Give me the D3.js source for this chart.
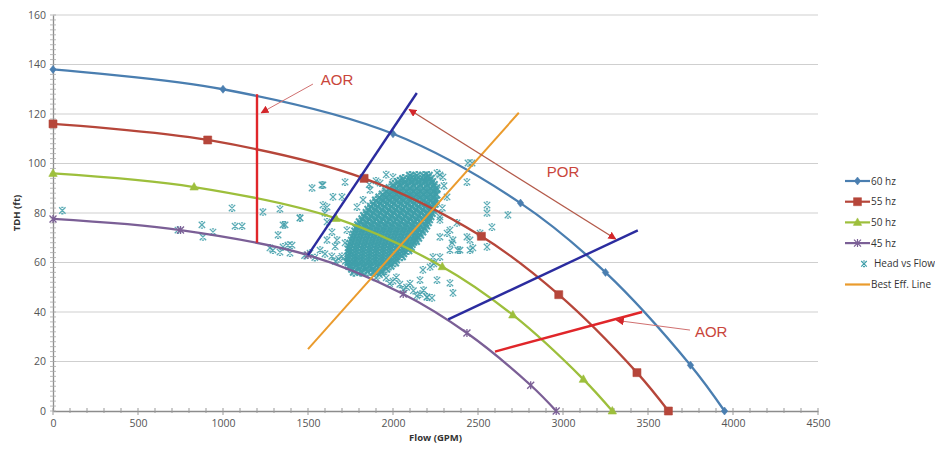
<!DOCTYPE html>
<html>
<head>
<meta charset="utf-8">
<script src="https://d3js.org/d3.v7.min.js"></script>
<style>
body { margin: 0; background: #fff; }
text { font-family: "Liberation Sans Narrow", "Open Sans", Arial, sans-serif; }
</style>
</head>
<body>
<script>
// pump curves (flow GPM, head ft)
var flow60 = [0, 1000, 2000, 2750, 3250, 3750, 3950],
    head60 = [138, 130, 112, 84, 56, 18.5, 0];
var flow55 = [0, 910, 1830, 2520, 2975, 3435, 3620],
    head55 = [116, 109.5, 94, 70.6, 47, 15.5, 0];
var flow50 = [0, 830, 1665, 2290, 2705, 3120, 3290],
    head50 = [96, 90.5, 77.8, 58.3, 38.8, 12.8, 0];
var flow45 = [0, 750, 1500, 2060, 2435, 2810, 2960],
    head45 = [77.6, 73.1, 63, 47.3, 31.5, 10.4, 0];

// Head vs Flow scatter: loose points and the strip along the 45 hz curve
var scatterFlow = [
  55, 735, 876, 882, 941, 1053, 1071, 1112, 1235, 1335, 1365, 1324, 1453, 1382, 1294, 1276, 1335, 1394, 1512,
  1524, 1588, 1612, 1600, 1647, 1582, 1718, 1700, 1588, 1353, 1453, 1406, 1353, 1612, 1641, 1612, 1571, 1671,
  1729, 1718, 1788, 1824, 1865, 1924, 2000, 2041, 2118, 2200, 2259, 2294, 2259, 2276, 2318, 2353, 2435, 2453,
  2394, 2335, 2276, 2218, 2176, 2159, 2259, 2335, 2353, 2229, 2200, 2465, 2435, 2441, 2276, 2235, 2318, 2553,
  2553, 2676, 2582, 2512, 2453, 2470, 2553, 2382, 2347, 2276, 2235, 2335, 2376, 2276, 1480, 1540, 1660, 1750,
  1600, 1640, 1680, 1720, 1760, 1800, 1840, 1880, 1920, 1960, 2000, 2040, 2080, 2120, 2160, 2200,
  1700, 1780, 1860, 1940, 2020, 2100, 2180, 1660, 1740, 1820, 1900, 1980, 2060, 2140,
  1860, 1900, 1960, 2290, 2300, 2240
];
var scatterHead = [
  81, 73.1, 75.2, 70.3, 72.3, 82, 74.7, 74.7, 80.4, 81.6, 75.2, 71.1, 78, 67, 65, 65.9, 64.2, 63.8, 63.8,
  90.1, 91.3, 82.4, 80, 86.5, 91.3, 92.5, 86.5, 83.2, 75.2, 78, 67, 66.3, 76.4, 72.3, 69.1, 65, 69.1,
  73.1, 67.9, 82.4, 85.3, 89.3, 92.1, 94.5, 93.3, 94.5, 94.5, 96.2, 94.5, 89.3, 77.2, 71.9, 69.1, 70.3, 65,
  65, 65, 62.2, 58.2, 57, 52.9, 52.9, 51.7, 47.7, 45.7, 46.1, 100.2, 92.5, 100.2, 95.4, 90.5, 86.5, 83.2,
  80, 79.2, 74.3, 71.9, 69.1, 65.9, 66.3, 65, 67.9, 70.3, 62.2, 73.1, 76, 78.4, 62.8, 62, 66.5, 64,
  63.5, 62.5, 61.5, 60.5, 59.5, 58.5, 57.3, 56, 55, 53.8, 52.5, 51.2, 50, 48.6, 47.2, 46,
  62.5, 61, 58.5, 56.5, 54, 51.5, 48.8, 60.5, 58.3, 56, 53.8, 51.5, 49, 46.5,
  91.5, 93, 95.5, 82, 91, 59.5
];

// Head vs Flow scatter: dense cluster, one row of flows per head value
var clusterHead = [95, 93.75, 92.5, 91.25, 90, 88.75, 87.5, 86.25, 85, 83.75, 82.5, 81.25, 80, 78.75,
  77.5, 76.25, 75, 73.75, 72.5, 71.25, 70, 68.75, 67.5, 66.25, 65, 63.75, 62.5, 61.25, 60, 58.75, 57.5, 56.25];
var clusterFlow = [
  [2100, 2140, 2180, 2210],
  [2060, 2100, 2140, 2180, 2220],
  [2030, 2070, 2110, 2150, 2190, 2230],
  [2000, 2040, 2080, 2120, 2160, 2200, 2240],
  [1980, 2020, 2060, 2100, 2140, 2180, 2220, 2255],
  [1960, 2000, 2040, 2080, 2120, 2160, 2200, 2240],
  [1940, 1980, 2020, 2060, 2100, 2140, 2180, 2220, 2255],
  [1920, 1960, 2000, 2040, 2080, 2120, 2160, 2200, 2240],
  [1900, 1940, 1980, 2020, 2060, 2100, 2140, 2180, 2220, 2250],
  [1885, 1925, 1965, 2005, 2045, 2085, 2125, 2165, 2205, 2245],
  [1870, 1910, 1950, 1990, 2030, 2070, 2110, 2150, 2190, 2230],
  [1855, 1895, 1935, 1975, 2015, 2055, 2095, 2135, 2175, 2215, 2235],
  [1845, 1885, 1925, 1965, 2005, 2045, 2085, 2125, 2165, 2205, 2228],
  [1830, 1870, 1910, 1950, 1990, 2030, 2070, 2110, 2150, 2190, 2220],
  [1820, 1860, 1900, 1940, 1980, 2020, 2060, 2100, 2140, 2180, 2212],
  [1805, 1845, 1885, 1925, 1965, 2005, 2045, 2085, 2125, 2165, 2205],
  [1795, 1835, 1875, 1915, 1955, 1995, 2035, 2075, 2115, 2155, 2195],
  [1785, 1825, 1865, 1905, 1945, 1985, 2025, 2065, 2105, 2145, 2185],
  [1778, 1818, 1858, 1898, 1938, 1978, 2018, 2058, 2098, 2138, 2172],
  [1770, 1810, 1850, 1890, 1930, 1970, 2010, 2050, 2090, 2130, 2160],
  [1765, 1805, 1845, 1885, 1925, 1965, 2005, 2045, 2085, 2125, 2148],
  [1758, 1798, 1838, 1878, 1918, 1958, 1998, 2038, 2078, 2118, 2135],
  [1750, 1790, 1830, 1870, 1910, 1950, 1990, 2030, 2070, 2110],
  [1745, 1785, 1825, 1865, 1905, 1945, 1985, 2025, 2065, 2105],
  [1742, 1782, 1822, 1862, 1902, 1942, 1982, 2022, 2062, 2090],
  [1740, 1780, 1820, 1860, 1900, 1940, 1980, 2020, 2060],
  [1738, 1778, 1818, 1858, 1898, 1938, 1978, 2018, 2052],
  [1738, 1778, 1818, 1858, 1898, 1938, 1978, 2018],
  [1740, 1780, 1820, 1860, 1900, 1940, 1980, 2012],
  [1745, 1785, 1825, 1865, 1905, 1945, 1985],
  [1760, 1800, 1840, 1880, 1920, 1960],
  [1770, 1810, 1850, 1890, 1930]
];

// best efficiency line and operating region boundaries
var bestEffFlow = [1500, 2740], bestEffHead = [25, 120.5];
var porUpperFlow = [1500, 2140], porUpperHead = [63, 128.5];
var porLowerFlow = [2325, 3440], porLowerHead = [37, 73];
var aorLeftFlow = [1200, 1200], aorLeftHead = [128, 68];
var aorRightFlow = [2600, 3465], aorRightHead = [24, 40];

var xTicks = [0, 500, 1000, 1500, 2000, 2500, 3000, 3500, 4000, 4500];
var yTicks = [0, 20, 40, 60, 80, 100, 120, 140, 160];

var legendLabels = ["60 hz", "55 hz", "50 hz", "45 hz", "Head vs Flow", "Best Eff. Line"];

var margin = {top: 15, right: 117, bottom: 39, left: 53},
    width = 935 - margin.left - margin.right,
    height = 450 - margin.top - margin.bottom;

var x = d3.scaleLinear().domain([0, 4500]).range([0, width]);
var y = d3.scaleLinear().domain([0, 160]).range([height, 0]);

var svg = d3.select("body").append("svg")
    .attr("width", 935)
    .attr("height", 450);

var defs = svg.append("defs");
defs.append("marker")
    .attr("id", "arr")
    .attr("viewBox", "0 0 10 10")
    .attr("refX", 9).attr("refY", 5)
    .attr("markerWidth", 8).attr("markerHeight", 8)
    .attr("markerUnits", "userSpaceOnUse")
    .attr("orient", "auto-start-reverse")
  .append("path")
    .attr("d", "M0,0L10,5L0,10Z")
    .attr("fill", "#d3262a");

var g = svg.append("g")
    .attr("transform", "translate(" + margin.left + "," + margin.top + ")");

// gridlines
g.append("g").selectAll("line")
    .data(yTicks.filter(function(d) { return d > 0; }))
  .enter().append("line")
    .attr("x1", 0).attr("x2", width)
    .attr("y1", function(d) { return y(d); })
    .attr("y2", function(d) { return y(d); })
    .attr("stroke", "#cfcfcf")
    .attr("stroke-width", 1.2);

// axes
var xAxis = g.append("g")
    .attr("transform", "translate(0," + height + ")")
    .call(d3.axisBottom(x).tickValues(xTicks).tickFormat(d3.format("d")).tickSize(0).tickPadding(9));
var yAxis = g.append("g")
    .call(d3.axisLeft(y).tickValues(yTicks).tickFormat(d3.format("d")).tickSize(0).tickPadding(7));

[xAxis, yAxis].forEach(function(a) {
  a.select(".domain").attr("stroke", "#8c8c8c").attr("stroke-width", 1.3);
  a.selectAll("text").attr("fill", "#555").style("font-size", "10.5px");
});

// minor ticks (cross style)
g.append("g").selectAll("line")
    .data(d3.range(0, 4501, 100))
  .enter().append("line")
    .attr("x1", function(d) { return x(d); })
    .attr("x2", function(d) { return x(d); })
    .attr("y1", height - 3)
    .attr("y2", function(d) { return d % 500 === 0 ? height + 4 : height + 2; })
    .attr("stroke", "#999");
g.append("g").selectAll("line")
    .data(d3.range(0, 161, 2))
  .enter().append("line")
    .attr("x1", -3).attr("x2", 3)
    .attr("y1", function(d) { return y(d); })
    .attr("y2", function(d) { return y(d); })
    .attr("stroke", "#aaa")
    .attr("stroke-width", 0.8);

// axis titles
g.append("text")
    .attr("transform", "translate(" + (-36) + "," + (height / 2) + ") rotate(-90)")
    .attr("text-anchor", "middle")
    .attr("dy", "0.35em")
    .style("font-size", "9.5px")
    .style("font-weight", "bold")
    .attr("fill", "#333")
    .text("TDH (ft)");
g.append("text")
    .attr("x", x(2250)).attr("y", height + 30)
    .attr("text-anchor", "middle")
    .style("font-size", "9.5px")
    .style("font-weight", "bold")
    .attr("fill", "#333")
    .text("Flow (GPM)");

function pairs(fx, fy) {
  return fx.map(function(d, i) { return [d, fy[i]]; });
}

var line = d3.line()
    .x(function(d) { return x(d[0]); })
    .y(function(d) { return y(d[1]); });
var smooth = d3.line()
    .curve(d3.curveCatmullRom.alpha(0.5))
    .x(function(d) { return x(d[0]); })
    .y(function(d) { return y(d[1]); });

// scatter
var scatterColor = "#3f9ea9";
function xPath(s) {
  var b = s * 0.35;
  return "M" + (-s) + "," + (-s) + "L" + s + "," + s +
         "M" + s + "," + (-s) + "L" + (-s) + "," + s +
         "M" + (-b) + "," + (-s) + "L" + b + "," + (-s) +
         "M" + (-b) + "," + s + "L" + b + "," + s;
}
var clusterPts = [];
clusterHead.forEach(function(h, i) {
  clusterFlow[i].forEach(function(f) { clusterPts.push([f, h]); });
});
var scatterG = g.append("g")
    .attr("fill", "none")
    .attr("stroke", scatterColor);
scatterG.selectAll(".loose")
    .data(pairs(scatterFlow, scatterHead))
  .enter().append("path")
    .attr("class", "loose")
    .attr("transform", function(d) { return "translate(" + x(d[0]) + "," + y(d[1]) + ")"; })
    .attr("d", xPath(3.2))
    .attr("stroke-width", 1.3)
    .attr("opacity", 0.85);
scatterG.selectAll(".dense")
    .data(clusterPts)
  .enter().append("path")
    .attr("class", "dense")
    .attr("transform", function(d) { return "translate(" + x(d[0]) + "," + y(d[1]) + ")"; })
    .attr("d", xPath(3.8))
    .attr("stroke-width", 2.1)
    .attr("opacity", 0.92);

// pump curves
var curves = [
  {f: flow60, h: head60, color: "#4a7eb0", mark: "diamond"},
  {f: flow55, h: head55, color: "#b6463a", mark: "square"},
  {f: flow50, h: head50, color: "#9dbf3c", mark: "triangle"},
  {f: flow45, h: head45, color: "#7b5f96", mark: "star"}
];
function markerPath(type) {
  if (type === "diamond") return "M0,-4L3.2,0L0,4L-3.2,0Z";
  if (type === "square") return "M-4,-4H4V4H-4Z";
  if (type === "triangle") return "M0,-4.5L4.2,3L-4.2,3Z";
  return "M-3.5,-3.5L3.5,3.5M3.5,-3.5L-3.5,3.5M0,-4V4";
}
curves.forEach(function(c) {
  var pts = pairs(c.f, c.h);
  g.append("path")
      .datum(pts)
      .attr("d", smooth)
      .attr("fill", "none")
      .attr("stroke", c.color)
      .attr("stroke-width", 2.3);
  g.append("g").selectAll("path")
      .data(pts)
    .enter().append("path")
      .attr("transform", function(d) { return "translate(" + x(d[0]) + "," + y(d[1]) + ")"; })
      .attr("d", markerPath(c.mark))
      .attr("fill", c.mark === "star" ? "none" : c.color)
      .attr("stroke", c.color)
      .attr("stroke-width", c.mark === "star" ? 1.3 : 0.6);
});

// best efficiency line
g.append("path")
    .datum(pairs(bestEffFlow, bestEffHead))
    .attr("d", line)
    .attr("fill", "none")
    .attr("stroke", "#ea9b2d")
    .attr("stroke-width", 2);

// POR / AOR boundaries
[[porUpperFlow, porUpperHead], [porLowerFlow, porLowerHead]].forEach(function(p) {
  g.append("path")
      .datum(pairs(p[0], p[1]))
      .attr("d", line)
      .attr("fill", "none")
      .attr("stroke", "#2b2c9f")
      .attr("stroke-width", 2.4);
});
[[aorLeftFlow, aorLeftHead], [aorRightFlow, aorRightHead]].forEach(function(p) {
  g.append("path")
      .datum(pairs(p[0], p[1]))
      .attr("d", line)
      .attr("fill", "none")
      .attr("stroke", "#e0262a")
      .attr("stroke-width", 2.4);
});

// annotations
var annColor = "#c9453b";
// AOR (top)
g.append("line")
    .attr("x1", x(1529)).attr("y1", y(132.1))
    .attr("x2", x(1225)).attr("y2", y(120.5))
    .attr("stroke", "#d07070").attr("stroke-width", 1)
    .attr("marker-end", "url(#arr)");
g.append("text")
    .attr("x", x(1671)).attr("y", y(133.7))
    .attr("text-anchor", "middle").attr("dy", "0.35em")
    .style("font-family", "'Liberation Sans', Arial, sans-serif")
    .style("font-size", "15px").attr("fill", annColor)
    .text("AOR");
// POR double arrow
g.append("line")
    .attr("x1", x(2095)).attr("y1", y(121.8))
    .attr("x2", x(3310)).attr("y2", y(69.5))
    .attr("stroke", "#b35a4a").attr("stroke-width", 1.3)
    .attr("marker-start", "url(#arr)")
    .attr("marker-end", "url(#arr)");
g.append("text")
    .attr("x", x(3000)).attr("y", y(96.6))
    .attr("text-anchor", "middle").attr("dy", "0.35em")
    .style("font-family", "'Liberation Sans', Arial, sans-serif")
    .style("font-size", "15px").attr("fill", annColor)
    .text("POR");
// AOR (bottom)
g.append("line")
    .attr("x1", x(3747)).attr("y1", y(32.7))
    .attr("x2", x(3315)).attr("y2", y(36.6))
    .attr("stroke", "#d07070").attr("stroke-width", 1)
    .attr("marker-end", "url(#arr)");
g.append("text")
    .attr("x", x(3776)).attr("y", y(32))
    .attr("text-anchor", "start").attr("dy", "0.35em")
    .style("font-family", "'Liberation Sans', Arial, sans-serif")
    .style("font-size", "15px").attr("fill", annColor)
    .text("AOR");

// legend
var legend = svg.append("g").attr("transform", "translate(845,181)");
var legendItems = [
  {color: "#4a7eb0", mark: "diamond", line: true},
  {color: "#b6463a", mark: "square", line: true},
  {color: "#9dbf3c", mark: "triangle", line: true},
  {color: "#7b5f96", mark: "star", line: true},
  {color: scatterColor, mark: "scatter", line: false},
  {color: "#ea9b2d", mark: null, line: true}
];
legendItems.forEach(function(it, i) {
  var row = legend.append("g").attr("transform", "translate(0," + (i * 20.7) + ")");
  if (it.line) {
    row.append("line").attr("x1", 0).attr("x2", 25).attr("y1", 0).attr("y2", 0)
        .attr("stroke", it.color).attr("stroke-width", 2.2);
  }
  if (it.mark === "scatter") {
    row.append("path").attr("transform", "translate(19,0)")
        .attr("d", xPath(2.8)).attr("fill", "none")
        .attr("stroke", it.color).attr("stroke-width", 1.2);
  } else if (it.mark) {
    row.append("path").attr("transform", "translate(12.5,0)")
        .attr("d", markerPath(it.mark))
        .attr("fill", it.mark === "star" ? "none" : it.color)
        .attr("stroke", it.color).attr("stroke-width", it.mark === "star" ? 1.2 : 0.5);
  }
  row.append("text")
      .attr("x", it.mark === "scatter" ? 29 : 26).attr("y", 0).attr("dy", "0.35em")
      .style("font-size", "10px").attr("fill", "#333")
      .text(legendLabels[i]);
});
</script>
</body>
</html>
